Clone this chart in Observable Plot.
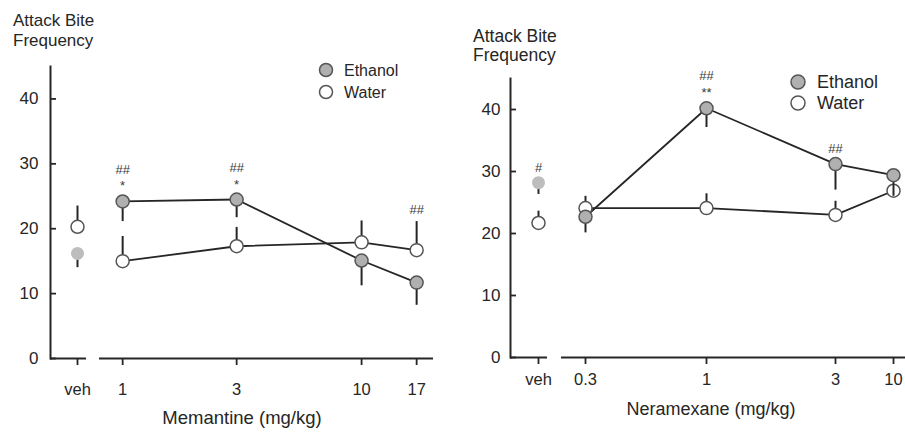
<!DOCTYPE html>
<html><head><meta charset="utf-8">
<script src="https://cdn.jsdelivr.net/npm/d3@7"></script>
<script src="https://cdn.jsdelivr.net/npm/@observablehq/plot@0.6"></script>
<style>
body{margin:0;background:#fff;}
#fig{position:relative;width:905px;height:435px;overflow:hidden;background:#fff;font-family:"Liberation Sans",Arial,sans-serif;}
#fig svg{position:absolute;top:0;}
</style></head><body><div id="fig"></div><script>
// ---------- data ----------
const yTicks = [0, 10, 20, 30, 40];
const vehLabel = "veh";
const seriesNames = ["Ethanol", "Water"];

// Memantine panel
const memantineDoses = [1, 3, 10, 17];
const memantineEthanolMean = [24.2, 24.5, 15.1, 11.7];
const memantineEthanolErrLow = [21.1, 21.7, 11.2, 8.2];
const memantineWaterMean = [15.0, 17.3, 17.9, 16.7];
const memantineWaterErrHigh = [18.8, 20.2, 21.2, 21.1];
const memantineVehEthanol = [16.2];
const memantineVehEthanolErrLow = [14.0];
const memantineVehWater = [20.3];
const memantineVehWaterErrHigh = [23.5];
const memantineSigDoses = [1, 3, 17];
const memantineSigText = ["##\n*", "##\n*", "##"];

// Neramexane panel
const neramexaneDoses = [0.3, 1, 3, 10];
const neramexaneEthanolMean = [22.7, 40.2, 31.2, 29.4];
const neramexaneEthanolErrLow = [20.1, 37.1, 27.0, 26.0];
const neramexaneWaterMean = [24.1, 24.1, 23.0, 26.9];
const neramexaneWaterErrHigh = [26.0, 26.4, 25.2, 27.6];
const neramexaneVehEthanol = [28.2];
const neramexaneVehEthanolErrLow = [26.3];
const neramexaneVehWater = [21.7];
const neramexaneVehWaterErrHigh = [23.6];
const neramexaneSigDoses = [1, 3];
const neramexaneSigText = ["##\n**", "##"];
const neramexaneVehSigText = ["#"];

// ---------- helpers ----------
const fig = document.getElementById("fig");
const H = 435;
const ink = "#262626";
const ethFill = "#b0b0b0";
const vehEthFill = "#bdbdbd";
const dotStroke = "#555";
const font = '"Liberation Sans", Arial, sans-serif';

const rows = (xs, m, e) => xs.map((x, i) => ({dose: x, mean: m[i], err: e[i]}));

function sigRows(doses, texts, eth, wat) {
  return doses.map((d, i) => {
    const e = eth.find(r => r.dose === d), w = wat.find(r => r.dose === d);
    const onEth = e.mean >= w.err;
    return {dose: d, text: texts[i], y: onEth ? e.mean : w.err, on: onEth ? "eth" : "wat"};
  });
}

function dataMarks(eth, wat, sig, vehMode) {
  const marks = [];
  if (!vehMode) {
    marks.push(Plot.line(wat, {x: "dose", y: "mean", stroke: ink, strokeWidth: 1.8}));
    marks.push(Plot.line(eth, {x: "dose", y: "mean", stroke: ink, strokeWidth: 1.8}));
  }
  marks.push(Plot.ruleX(wat, {x: "dose", y1: "mean", y2: "err", stroke: ink, strokeWidth: 2}));
  marks.push(Plot.dot(wat, {x: "dose", y: "mean", r: 6.5, fill: "white", stroke: dotStroke, strokeWidth: 1.5}));
  marks.push(Plot.ruleX(eth, {x: "dose", y1: "mean", y2: "err", stroke: ink, strokeWidth: 2}));
  if (vehMode) {
    marks.push(Plot.dot(eth, {x: "dose", y: "mean", r: 6.5, fill: vehEthFill, stroke: "none"}));
  } else {
    marks.push(Plot.dot(eth, {x: "dose", y: "mean", r: 6.5, fill: ethFill, stroke: dotStroke, strokeWidth: 1.5}));
  }
  if (sig) {
    const common = {x: "dose", y: "y", text: "text", lineAnchor: "bottom", fontSize: 13, lineHeight: 1.3, fill: "#3a3a3a"};
    marks.push(Plot.text(sig.filter(d => d.on === "eth"), {...common, dy: -11}));
    marks.push(Plot.text(sig.filter(d => d.on === "wat"), {...common, dy: -7.5}));
  }
  return marks;
}

function vehChart({left, width, marginLeft, marginRight, marginTop, marginBottom, eth, wat, sig, yPad, xPad}) {
  const svg = Plot.plot({
    width, height: H, marginLeft, marginRight, marginTop, marginBottom,
    style: {fontFamily: font, fontSize: "16px", color: ink, background: "white"},
    x: {type: "point", domain: [vehLabel], align: 0.75, padding: 0.5},
    y: {domain: [0, 45]},
    marks: [
      Plot.frame({anchor: "left", stroke: ink, strokeWidth: 2}),
      Plot.ruleY([0], {stroke: ink, strokeWidth: 2}),
      Plot.axisY(yTicks, {tickSize: 6, dx: 6, tickPadding: yPad, tickFormat: d => String(d), label: null, stroke: ink, strokeWidth: 1.8, fontSize: 17}),
      Plot.axisX({tickSize: 7, tickPadding: xPad, label: null, stroke: ink, strokeWidth: 1.8, fontSize: 16.5}),
      ...dataMarks(eth, wat, sig, true)
    ]
  });
  svg.style.left = left + "px";
  fig.appendChild(svg);
}

function doseChart({left, width, marginLeft, marginRight, marginTop, marginBottom, x, ticks, eth, wat, sig, xPad}) {
  const svg = Plot.plot({
    width, height: H, marginLeft, marginRight, marginTop, marginBottom,
    style: {fontFamily: font, fontSize: "16px", color: ink, background: "white"},
    x,
    y: {domain: [0, 45], axis: null},
    marks: [
      Plot.ruleY([0], {stroke: ink, strokeWidth: 2}),
      Plot.axisX(ticks, {tickSize: 7, tickPadding: xPad, tickFormat: d => String(d), label: null, stroke: ink, strokeWidth: 1.8, fontSize: 16.5}),
      ...dataMarks(eth, wat, sig, false)
    ]
  });
  svg.style.left = left + "px";
  fig.appendChild(svg);
}

// ---------- Memantine ----------
const memEth = rows(memantineDoses, memantineEthanolMean, memantineEthanolErrLow);
const memWat = rows(memantineDoses, memantineWaterMean, memantineWaterErrHigh);
vehChart({
  left: 0, width: 92, marginLeft: 50, marginRight: 6, marginTop: 66, marginBottom: 77,
  eth: rows([vehLabel], memantineVehEthanol, memantineVehEthanolErrLow),
  wat: rows([vehLabel], memantineVehWater, memantineVehWaterErrHigh),
  sig: null, yPad: 12, xPad: 18
});
doseChart({
  left: 92, width: 358, marginLeft: 7, marginRight: 17, marginTop: 66, marginBottom: 77,
  x: {type: "log", domain: [0.8, 20]}, ticks: memantineDoses,
  eth: memEth, wat: memWat, sig: sigRows(memantineSigDoses, memantineSigText, memEth, memWat), xPad: 18
});

// ---------- Neramexane ----------
const nerEth = rows(neramexaneDoses, neramexaneEthanolMean, neramexaneEthanolErrLow);
const nerWat = rows(neramexaneDoses, neramexaneWaterMean, neramexaneWaterErrHigh);
const nerVehEth = rows([vehLabel], neramexaneVehEthanol, neramexaneVehEthanolErrLow);
const nerVehWat = rows([vehLabel], neramexaneVehWater, neramexaneVehWaterErrHigh);
vehChart({
  left: 450, width: 103, marginLeft: 60, marginRight: 6, marginTop: 78, marginBottom: 78,
  eth: nerVehEth, wat: nerVehWat,
  sig: sigRows([vehLabel], neramexaneVehSigText, nerVehEth, nerVehWat), yPad: 10, xPad: 9
});
doseChart({
  left: 553, width: 365, marginLeft: 8, marginRight: 6, marginTop: 78, marginBottom: 78,
  x: {type: "linear", domain: neramexaneDoses, range: [32, 153, 282, 340]}, ticks: neramexaneDoses,
  eth: nerEth, wat: nerWat, sig: sigRows(neramexaneSigDoses, neramexaneSigText, nerEth, nerWat), xPad: 9
});

// ---------- titles & legends (overlay) ----------
const ov = d3.select(fig).append("svg")
  .attr("width", 905).attr("height", 435)
  .style("left", "0px").style("pointer-events", "none")
  .attr("font-family", font).attr("fill", ink);

function yTitle(x, y1, y2, size) {
  ov.append("text").attr("x", x).attr("y", y1).attr("font-size", size).text("Attack Bite");
  ov.append("text").attr("x", x).attr("y", y2).attr("font-size", size).text("Frequency");
}
yTitle(13, 26, 46, 17);
yTitle(473, 42, 61, 17.5);

ov.append("text").attr("x", 242).attr("y", 424).attr("font-size", 18.5).attr("text-anchor", "middle").text("Memantine (mg/kg)");
ov.append("text").attr("x", 711).attr("y", 415).attr("font-size", 18).attr("text-anchor", "middle").text("Neramexane (mg/kg)");

function legend(cx, cy, gap, r, tx, size) {
  seriesNames.forEach((name, i) => {
    const y = cy + i * gap;
    ov.append("circle").attr("cx", cx).attr("cy", y).attr("r", r)
      .attr("fill", i === 0 ? ethFill : "white").attr("stroke", dotStroke).attr("stroke-width", 1.5);
    ov.append("text").attr("x", tx).attr("y", y + size * 0.358).attr("font-size", size).text(name);
  });
}
legend(326, 70, 22, 6.5, 344, 16);
legend(798, 82, 21, 7, 817, 18);
</script></body></html>
